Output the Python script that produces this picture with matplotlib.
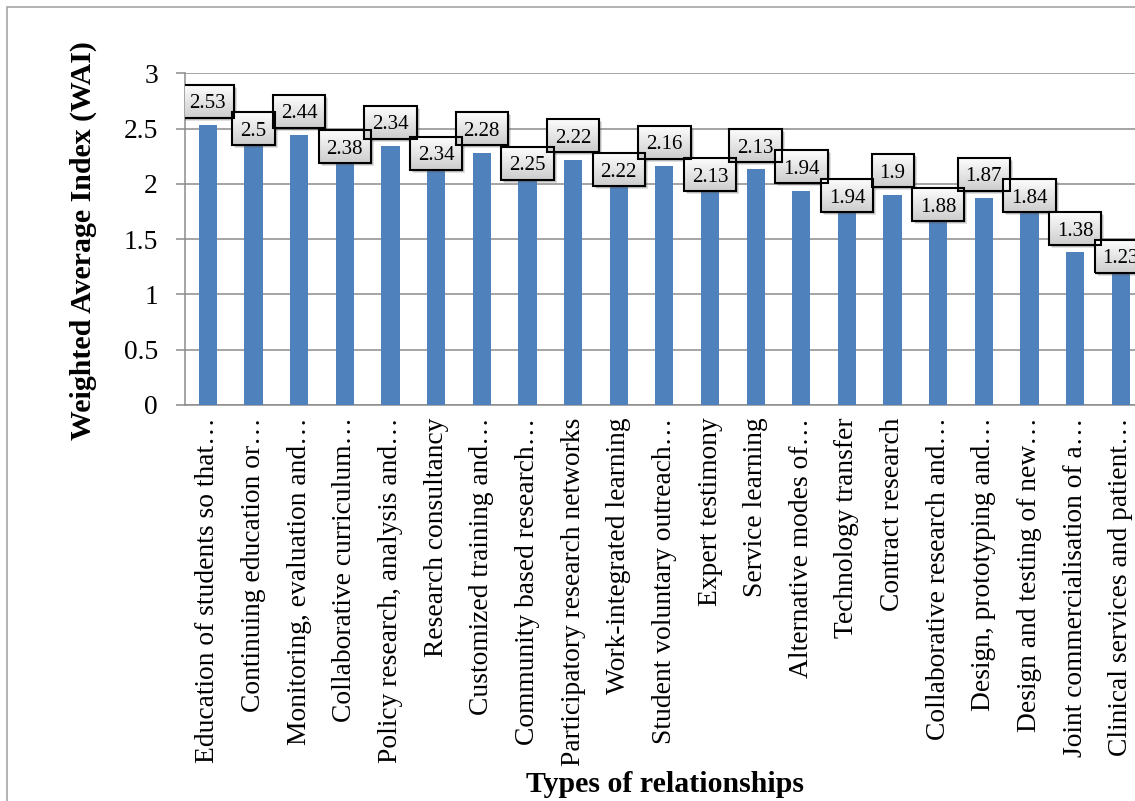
import matplotlib
matplotlib.use("Agg")
import matplotlib.pyplot as plt
import numpy as np
from matplotlib.patches import Rectangle
from matplotlib.colors import LinearSegmentedColormap

plt.rcParams["font.family"] = ["Liberation Serif", "DejaVu Serif"]

# ---- data ----
categories = [
    "Education of students so that\u2026",
    "Continuing education or\u2026",
    "Monitoring, evaluation and\u2026",
    "Collaborative curriculum\u2026",
    "Policy research, analysis and\u2026",
    "Research consultancy",
    "Customized training and\u2026",
    "Community based research\u2026",
    "Participatory research networks",
    "Work-integrated learning",
    "Student voluntary outreach\u2026",
    "Expert testimony",
    "Service learning",
    "Alternative modes of\u2026",
    "Technology transfer",
    "Contract research",
    "Collaborative research and\u2026",
    "Design, prototyping and\u2026",
    "Design and testing of new\u2026",
    "Joint commercialisation of a\u2026",
    "Clinical services and patient\u2026",
]
wai = [2.53, 2.5, 2.44, 2.38, 2.34, 2.34, 2.28, 2.25, 2.22, 2.22, 2.16,
       2.13, 2.13, 1.94, 1.94, 1.9, 1.88, 1.87, 1.84, 1.38, 1.23]
y_ticks = [0, 0.5, 1, 1.5, 2, 2.5, 3]

# vertical shift (pixels) of each value callout centre relative to its bar top
callout_shift = [24, 0, 24, -5, 24, -7, 24, -7, 24, -10, 24,
                 -5, 24, 24, -5, 24, -7.5, 24, 6, 24, 13]

W, H = 1135, 801
DPI = 100
fig = plt.figure(figsize=(W / DPI, H / DPI), dpi=DPI)
ax = fig.add_axes([185 / W, 1 - 405 / H, (1143.7 - 185) / W, (405 - 73.3) / H])

grid_col = "#8c8c8c"
x = np.arange(len(wai))
ax.bar(x, wai, width=0.40, color="#4f81bd", zorder=3)

ax.set_xlim(-0.5, len(wai) - 0.5)
ax.set_ylim(0, 3)
ax.set_yticks(y_ticks)
ax.set_yticklabels([f"{t:g}" for t in y_ticks])
ax.yaxis.grid(True, color=grid_col, lw=1.1)
ax.set_axisbelow(True)
for s in ("top", "right"):
    ax.spines[s].set_visible(False)
for s in ("left", "bottom"):
    ax.spines[s].set_color(grid_col)
    ax.spines[s].set_linewidth(1.1)
ax.tick_params(axis="y", length=6.5, width=1.1, color=grid_col,
               labelsize=19.8, pad=13)
ax.tick_params(axis="x", length=0, labelsize=19.8, pad=9)
ax.set_xticks(x)
ax.set_xticklabels(categories, rotation=90, ha="center", va="top")

# value callouts: digits centred in a framed, shaded box
label_fs = 15
em_px = label_fs * DPI / 72
texts = []
for i, (v, dy) in enumerate(zip(wai, callout_shift)):
    t = ax.annotate(f"{v:g}", xy=(i, v), xytext=(0, dy - 0.34 * em_px),
                    textcoords="offset pixels", ha="center", va="baseline",
                    fontsize=label_fs, zorder=7, annotation_clip=False)
    texts.append(t)

fig.canvas.draw()
renderer = fig.canvas.get_renderer()
inv = ax.transData.inverted()
grad_cmap = LinearSegmentedColormap.from_list("boxfill", ["#cdcdcd", "#fdfdfd"])
grad = np.linspace(1, 0, 64).reshape(-1, 1)
for i, (t, v, dy) in enumerate(zip(texts, wai, callout_shift)):
    bb = t.get_window_extent(renderer)
    cx, cy = ax.transData.transform((i, v))
    cy += dy
    w = bb.width + 16
    h = 33
    (x0, y0) = inv.transform((cx - w / 2, cy - h / 2))
    (x1, y1) = inv.transform((cx + w / 2, cy + h / 2))
    for k, a in ((3.0, 0.18), (2.0, 0.25)):
        (sx0, sy0) = inv.transform((cx - w / 2 + k, cy - h / 2 - k))
        ax.add_patch(Rectangle((sx0, sy0), x1 - x0, y1 - y0, facecolor="#555555",
                               edgecolor="none", alpha=a, zorder=4.8))
    ax.imshow(grad, cmap=grad_cmap, vmin=0, vmax=1, extent=[x0, x1, y0, y1],
              aspect="auto", origin="upper", interpolation="bilinear", zorder=5)
    ax.add_patch(Rectangle((x0, y0), x1 - x0, y1 - y0, fill=False,
                           edgecolor="black", lw=1.5, zorder=5.5))

ax.set_xlim(-0.5, len(wai) - 0.5)
ax.set_ylim(0, 3)
ax.set_aspect("auto")

fig.text(83 / W, 1 - 241 / H, "Weighted Average Index (WAI)", rotation=90,
         ha="center", va="center", fontsize=21.5, fontweight="bold")
fig.text(665 / W, 1 - 785 / H, "Types of relationships", ha="center",
         va="center", fontsize=21.5, fontweight="bold")

# outer chart frame
fig.add_artist(Rectangle((7 / W, -0.1), 1.2, 1.1 - 7 / H, transform=fig.transFigure,
                         fill=False, edgecolor="#a6a6a6", lw=1.2))

fig.savefig("out.png", dpi=DPI)
